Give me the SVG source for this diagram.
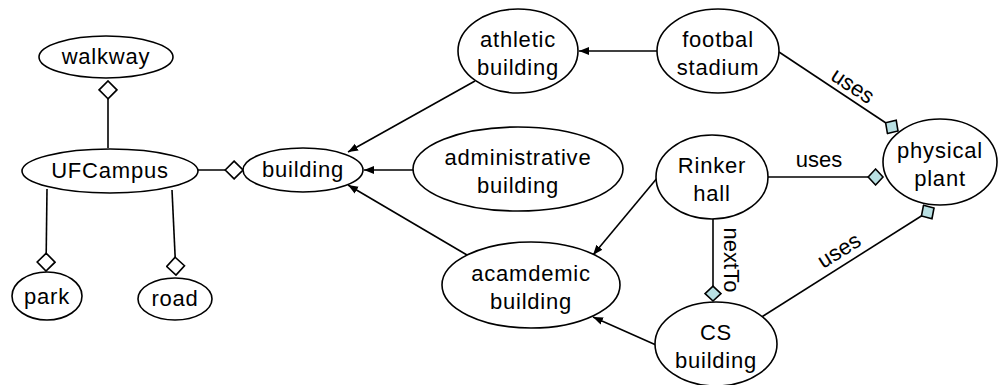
<svg xmlns="http://www.w3.org/2000/svg" width="998" height="385" viewBox="0 0 998 385">
<style>
.n ellipse{fill:#fff;stroke:#000;stroke-width:1.6}
text{font-family:"Liberation Sans",Arial,sans-serif;font-size:22px;fill:#000;text-anchor:middle;letter-spacing:0.8px}
.lbl{letter-spacing:0}
.c line{stroke:#000;stroke-width:1.6;fill:none}
.arr{marker-end:url(#arrow)}
.agg{marker-end:url(#wd)}
.use{marker-end:url(#bd)}
</style>
<defs>
<marker id="arrow" markerUnits="userSpaceOnUse" markerWidth="10" markerHeight="10" viewBox="0 -4 9 8" refX="9" refY="0" orient="auto"><path d="M0,-3.5 L9,0 L0,3.5 z" fill="#000"/></marker>
<marker id="wd" markerUnits="userSpaceOnUse" markerWidth="20" markerHeight="20" viewBox="-1 -9 18 18" refX="16" refY="0" orient="auto"><path d="M0,0 L8,-8 L16,0 L8,8 z" fill="#fff" stroke="#000" stroke-width="1.5"/></marker>
<marker id="bd" markerUnits="userSpaceOnUse" markerWidth="18" markerHeight="18" viewBox="-1 -8.5 16 17" refX="14" refY="0" orient="auto"><path d="M0,0 L7,-7.5 L14,0 L7,7.5 z" fill="#b9e0e3" stroke="#000" stroke-width="1.5"/></marker>
</defs>
<g id="connectors" class="c">
<line class="agg" x1="108" y1="148" x2="108" y2="81"/>
<line class="agg" x1="198" y1="170" x2="243" y2="170"/>
<line class="agg" x1="47" y1="189" x2="46" y2="271"/>
<line class="agg" x1="172" y1="190" x2="176" y2="275"/>
<line class="arr" x1="657" y1="51" x2="579" y2="51"/>
<line class="arr" x1="475" y1="81" x2="348" y2="152"/>
<line class="arr" x1="413" y1="170" x2="364" y2="170"/>
<line class="arr" x1="467" y1="255" x2="348" y2="185"/>
<line class="arr" x1="658" y1="177" x2="593" y2="255"/>
<line class="arr" x1="656" y1="345" x2="593" y2="317"/>
<line class="use" x1="779" y1="52" x2="898" y2="131"/>
<line class="use" x1="768" y1="177" x2="883" y2="177"/>
<line class="use" x1="760" y1="318" x2="934" y2="208"/>
<line class="use" x1="713" y1="219" x2="713" y2="301"/>
<text class="lbl" transform="translate(846,96) rotate(33.6)" y="-5">uses</text>
<text class="lbl" x="819" y="167">uses</text>
<text class="lbl" transform="translate(847,263) rotate(-32.2)" y="-7.5">uses</text>
<text class="lbl" transform="translate(724,260) rotate(90)" y="0">nextTo</text>
</g>
<g id="walkway" class="n"><ellipse cx="106" cy="57" rx="67" ry="21"/><text x="106" y="64">walkway</text></g>
<g id="UFCampus" class="n"><ellipse cx="110" cy="171" rx="88" ry="22"/><text x="110" y="178">UFCampus</text></g>
<g id="building" class="n"><ellipse cx="303" cy="170" rx="60" ry="22"/><text x="303" y="177">building</text></g>
<g id="park" class="n"><ellipse cx="47" cy="296" rx="35" ry="24"/><text x="47" y="304">park</text></g>
<g id="road" class="n"><ellipse cx="175" cy="299" rx="37" ry="21"/><text x="175" y="306">road</text></g>
<g id="athletic" class="n"><ellipse cx="518" cy="51" rx="60" ry="42"/><text x="518" y="47">athletic</text><text x="518" y="75">building</text></g>
<g id="football" class="n"><ellipse cx="718" cy="51" rx="61" ry="42"/><text x="718" y="47">footbal</text><text x="718" y="75">stadium</text></g>
<g id="administrative" class="n"><ellipse cx="518" cy="169" rx="105" ry="42"/><text x="518" y="165">administrative</text><text x="518" y="193">building</text></g>
<g id="rinker" class="n"><ellipse cx="712" cy="177" rx="56" ry="42"/><text x="712" y="173">Rinker</text><text x="712" y="201">hall</text></g>
<g id="physical" class="n"><ellipse cx="940" cy="162" rx="57" ry="43"/><text x="940" y="158">physical</text><text x="940" y="186">plant</text></g>
<g id="academic" class="n"><ellipse cx="531" cy="285" rx="89" ry="43"/><text x="531" y="281">acamdemic</text><text x="531" y="309">building</text></g>
<g id="cs" class="n"><ellipse cx="716" cy="344" rx="61" ry="42"/><text x="716" y="340">CS</text><text x="716" y="368">building</text></g>
</svg>
